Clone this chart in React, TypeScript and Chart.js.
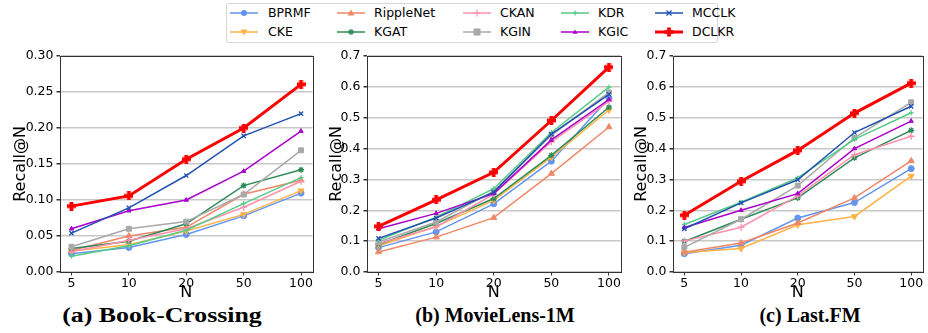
import React, { useEffect, useRef } from 'react';
import { Chart, registerables } from 'chart.js';
Chart.register(...registerables);

// ---------- data ----------
const N_LABELS = ['5', '10', '20', '50', '100'];
const MODELS = ['BPRMF', 'CKE', 'RippleNet', 'KGAT', 'CKAN', 'KGIN', 'KDR', 'KGIC', 'MCCLK', 'DCLKR'];

// (a) Book-Crossing
const bcBPRMF = [0.0255, 0.034, 0.052, 0.078, 0.1095];
const bcCKE = [0.029, 0.038, 0.057, 0.080, 0.113];
const bcRippleNet = [0.030, 0.050, 0.062, 0.108, 0.1275];
const bcKGAT = [0.0325, 0.0427, 0.067, 0.120, 0.142];
const bcCKAN = [0.028, 0.044, 0.060, 0.090, 0.126];
const bcKGIN = [0.035, 0.060, 0.070, 0.1076, 0.169];
const bcKDR = [0.022, 0.0366, 0.058, 0.095, 0.131];
const bcKGIC = [0.060, 0.085, 0.100, 0.140, 0.1957];
const bcMCCLK = [0.054, 0.089, 0.134, 0.189, 0.220];
const bcDCLKR = [0.0915, 0.1057, 0.1567, 0.200, 0.2606];

// (b) MovieLens-1M
const mlBPRMF = [0.079, 0.130, 0.221, 0.359, 0.563];
const mlCKE = [0.084, 0.148, 0.232, 0.372, 0.525];
const mlRippleNet = [0.065, 0.113, 0.176, 0.319, 0.470];
const mlKGAT = [0.089, 0.157, 0.238, 0.378, 0.534];
const mlCKAN = [0.092, 0.146, 0.252, 0.422, 0.553];
const mlKGIN = [0.097, 0.162, 0.262, 0.443, 0.582];
const mlKDR = [0.103, 0.178, 0.270, 0.452, 0.599];
const mlKGIC = [0.140, 0.190, 0.254, 0.428, 0.559];
const mlMCCLK = [0.109, 0.175, 0.259, 0.447, 0.576];
const mlDCLKR = [0.148, 0.234, 0.323, 0.491, 0.664];

// (c) Last.FM
const lfBPRMF = [0.059, 0.087, 0.175, 0.225, 0.335];
const lfCKE = [0.063, 0.076, 0.153, 0.180, 0.311];
const lfRippleNet = [0.064, 0.094, 0.159, 0.240, 0.360];
const lfKGAT = [0.099, 0.171, 0.240, 0.370, 0.459];
const lfCKAN = [0.100, 0.145, 0.247, 0.380, 0.440];
const lfKGIN = [0.080, 0.171, 0.280, 0.435, 0.550];
const lfKDR = [0.154, 0.226, 0.305, 0.430, 0.516];
const lfKGIC = [0.144, 0.200, 0.254, 0.400, 0.489];
const lfMCCLK = [0.140, 0.224, 0.299, 0.452, 0.537];
const lfDCLKR = [0.184, 0.294, 0.394, 0.515, 0.612];

const BC_SERIES = [bcBPRMF, bcCKE, bcRippleNet, bcKGAT, bcCKAN, bcKGIN, bcKDR, bcKGIC, bcMCCLK, bcDCLKR];
const ML_SERIES = [mlBPRMF, mlCKE, mlRippleNet, mlKGAT, mlCKAN, mlKGIN, mlKDR, mlKGIC, mlMCCLK, mlDCLKR];
const LF_SERIES = [lfBPRMF, lfCKE, lfRippleNet, lfKGAT, lfCKAN, lfKGIN, lfKDR, lfKGIC, lfMCCLK, lfDCLKR];

// ---------- styles ----------
const COLORS = ['#6495ED', '#FFB347', '#EE8866', '#2E8B57', '#FF91AF', '#A9A9A9', '#55CC88', '#AA00CC', '#2050B0', '#FF0000'];
const MARKERS = ['circle', 'triangleDown', 'triangle', 'star', 'cross', 'rect', 'cross', 'triangle', 'crossRot', 'plus'];
const RADII = [3, 3.5, 3.5, 3, 3.5, 3.5, 2.5, 2.5, 3, 4.5];
const LINE_W = [1.5, 1.5, 1.5, 1.5, 1.5, 1.5, 1.5, 1.5, 1.5, 3];

const SANS = 'DejaVu Sans';
const CANVAS_TOP = 40;
const CANVAS_H = 262;

function plusImage(color: string, size: number) {
  const c = document.createElement('canvas');
  c.width = size;
  c.height = size;
  const ctx = c.getContext('2d')!;
  ctx.fillStyle = color;
  const w = 3.8;
  const a = (size - w) / 2;
  ctx.fillRect(a, 0, w, size);
  ctx.fillRect(0, a, size, w);
  return c;
}

const framePlugin = {
  id: 'frame',
  afterDatasetsDraw(chart: any) {
    const { ctx, chartArea } = chart;
    ctx.save();
    ctx.strokeStyle = '#333';
    ctx.lineWidth = 1;
    ctx.strokeRect(Math.round(chartArea.left) + 0.5, Math.round(chartArea.top) + 0.5,
      Math.round(chartArea.right - chartArea.left), Math.round(chartArea.bottom - chartArea.top));
    ctx.restore();
  },
};

type PanelProps = {
  left: number; width: number; plotLeft: number; plotRight: number;
  yMax: number; yStep: number; dec: number; series: number[][];
};

function Panel(p: PanelProps) {
  const ref = useRef<HTMLCanvasElement>(null);
  useEffect(() => {
    const yAxisW = p.plotLeft - p.left;
    const padRight = p.left + p.width - p.plotRight;
    const datasets = p.series.map((vals, i) => {
      const m = MARKERS[i];
      let pointStyle: any = m;
      let rotation = 0;
      if (m === 'triangleDown') { pointStyle = 'triangle'; rotation = 180; }
      if (m === 'plus') pointStyle = plusImage(COLORS[i], 9);
      return {
        label: MODELS[i],
        data: vals.map((v, k) => ({ x: k, y: v })),
        borderColor: COLORS[i],
        backgroundColor: COLORS[i],
        borderWidth: LINE_W[i],
        pointStyle,
        pointRotation: rotation,
        pointRadius: RADII[i],
        pointBorderWidth: m === 'cross' || m === 'crossRot' || m === 'star' ? 1.3 : 1,
        pointBackgroundColor: COLORS[i],
        pointBorderColor: COLORS[i],
        order: p.series.length - 1 - i,
        tension: 0,
      };
    });
    const chart = new Chart(ref.current!, {
      type: 'line',
      data: { datasets },
      options: {
        animation: false,
        responsive: false,
        maintainAspectRatio: false,
        layout: { padding: { left: 0, right: padRight, top: 16, bottom: 0 } },
        plugins: { legend: { display: false }, tooltip: { enabled: false } },
        scales: {
          x: {
            type: 'linear',
            min: -0.2,
            max: 4.2,
            afterBuildTicks: (s: any) => { s.ticks = [0, 1, 2, 3, 4].map((v) => ({ value: v })); },
            ticks: {
              callback: (v: any) => N_LABELS[v],
              font: { family: SANS, size: 12.5 },
              color: '#000',
              padding: 1,
              maxRotation: 0,
              autoSkip: false,
            },
            grid: { drawOnChartArea: false, drawTicks: true, tickLength: 3.5, tickColor: '#333' },
            border: { color: '#333', width: 1 },
            title: { display: true, text: 'N', font: { family: SANS, size: 16 }, color: '#000', padding: { top: 0, bottom: 0 } },
            afterFit: (s: any) => { s.height = 30; },
          },
          y: {
            min: 0,
            max: p.yMax,
            ticks: {
              stepSize: p.yStep,
              callback: (v: any) => Number(v).toFixed(p.dec),
              font: { family: SANS, size: 12.5 },
              color: '#000',
              padding: 3,
            },
            grid: { color: '#c8c8c8', lineWidth: 1.5, drawTicks: true, tickLength: 3.5, tickColor: '#333' },
            border: { color: '#333', width: 1 },
            title: { display: true, text: 'Recall@N', font: { family: SANS, size: 16 }, color: '#000', padding: { top: 0, bottom: 0 } },
            afterFit: (s: any) => { s.width = yAxisW; },
          },
        },
      },
      plugins: [framePlugin],
    } as any);
    return () => chart.destroy();
  }, []);
  return (
    <canvas
      ref={ref}
      width={p.width}
      height={CANVAS_H}
      style={{ position: 'absolute', left: p.left, top: CANVAS_TOP, width: p.width, height: CANVAS_H }}
    />
  );
}

function Handle({ i }: { i: number }) {
  const c = COLORS[i];
  const m = MARKERS[i];
  const cx = 14, cy = 6;
  let marker: any = null;
  if (m === 'circle') marker = <circle cx={cx} cy={cy} r={3} fill={c} />;
  else if (m === 'triangleDown') marker = <polygon points={`${cx - 3.5},${cy - 2.5} ${cx + 3.5},${cy - 2.5} ${cx},${cy + 3.5}`} fill={c} />;
  else if (m === 'triangle') { const r = RADII[i]; marker = <polygon points={`${cx - r},${cy + r * 0.7} ${cx + r},${cy + r * 0.7} ${cx},${cy - r}`} fill={c} />; }
  else if (m === 'star') marker = <g stroke={c} strokeWidth={1.3}><line x1={cx - 3} y1={cy} x2={cx + 3} y2={cy} /><line x1={cx} y1={cy - 3} x2={cx} y2={cy + 3} /><line x1={cx - 2} y1={cy - 2} x2={cx + 2} y2={cy + 2} /><line x1={cx - 2} y1={cy + 2} x2={cx + 2} y2={cy - 2} /></g>;
  else if (m === 'cross') { const r = RADII[i]; marker = <g stroke={c} strokeWidth={1.3}><line x1={cx - r} y1={cy} x2={cx + r} y2={cy} /><line x1={cx} y1={cy - r} x2={cx} y2={cy + r} /></g>; }
  else if (m === 'rect') marker = <rect x={cx - 3.5} y={cy - 3.5} width={7} height={7} fill={c} />;
  else if (m === 'crossRot') marker = <g stroke={c} strokeWidth={1.3}><line x1={cx - 2.5} y1={cy - 2.5} x2={cx + 2.5} y2={cy + 2.5} /><line x1={cx - 2.5} y1={cy + 2.5} x2={cx + 2.5} y2={cy - 2.5} /></g>;
  else if (m === 'plus') marker = <g fill={c}><rect x={cx - 1.9} y={cy - 4.5} width={3.8} height={9} /><rect x={cx - 4.5} y={cy - 1.9} width={9} height={3.8} /></g>;
  return (
    <svg width={28} height={12} style={{ position: 'absolute', left: 0, top: 0 }}>
      <line x1={0} y1={cy} x2={28} y2={cy} stroke={c} strokeWidth={LINE_W[i]} />
      {marker}
    </svg>
  );
}

const LEG_HANDLE_X = [230, 337, 463, 561, 655];
const LEG_TEXT_X = [268, 374, 500, 598, 692];
const LEG_ROW_Y = [12.7, 32.3];

function Legend() {
  return (
    <div>
      <div style={{ position: 'absolute', left: 226, top: 3, width: 492, height: 40, border: '1px solid #d6d6d6', borderRadius: 3, background: '#fff', boxSizing: 'border-box' }} />
      {MODELS.map((name, i) => {
        const col = Math.floor(i / 2);
        const row = i % 2;
        const y = LEG_ROW_Y[row];
        return (
          <React.Fragment key={name}>
            <div style={{ position: 'absolute', left: LEG_HANDLE_X[col], top: y - 6, width: 28, height: 12 }}>
              <Handle i={i} />
            </div>
            <div style={{ position: 'absolute', left: LEG_TEXT_X[col], top: y - 8, height: 16, lineHeight: '16px', fontFamily: SANS, fontSize: 12.5, color: '#000', whiteSpace: 'nowrap' }}>
              {name}
            </div>
          </React.Fragment>
        );
      })}
    </div>
  );
}

const TITLE_STYLE: any = {
  position: 'absolute', top: 303, height: 24, lineHeight: '24px', fontFamily: '"Liberation Serif", "Times New Roman", serif',
  fontWeight: 'bold', fontSize: 20, color: '#000', whiteSpace: 'nowrap', transform: 'translateX(-50%)',
};

export default function App() {
  return (
    <div style={{ position: 'fixed', left: 0, top: 0, width: 928, height: 333, background: '#fff', overflow: 'hidden' }}>
      <Legend />
      <Panel left={11} width={307} plotLeft={60} plotRight={315} yMax={0.3} yStep={0.05} dec={2} series={BC_SERIES} />
      <Panel left={327} width={299} plotLeft={367} plotRight={622} yMax={0.7} yStep={0.1} dec={1} series={ML_SERIES} />
      <Panel left={632} width={296} plotLeft={673} plotRight={926} yMax={0.7} yStep={0.1} dec={1} series={LF_SERIES} />
      <div style={{ ...TITLE_STYLE, left: 162, transform: 'translateX(-50%) scaleX(1.29)' }}>(a) Book-Crossing</div>
      <div style={{ ...TITLE_STYLE, left: 495 }}>(b) MovieLens-1M</div>
      <div style={{ ...TITLE_STYLE, left: 810 }}>(c) Last.FM</div>
    </div>
  );
}
